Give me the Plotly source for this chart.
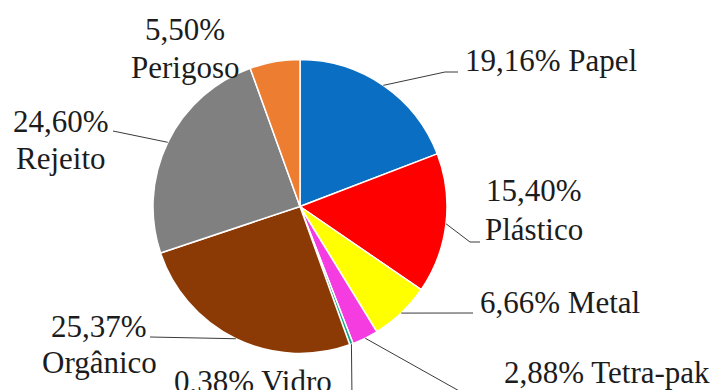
import math
import plotly.graph_objects as go

# Waste composition (%), clockwise from 12 o'clock
categories = ["Papel", "Plástico", "Metal", "Tetra-pak", "Vidro", "Orgânico", "Rejeito", "Perigoso"]
percentages = [19.16, 15.40, 6.66, 2.88, 0.38, 25.37, 24.60, 5.50]
slice_colors = ["#0A6FC2", "#FF0000", "#FFFF00", "#F43CE0", "#14A48C", "#8B3A06", "#808080", "#ED7D31"]

W, H = 715, 390
CX, CY, R = 300, 206.5, 147  # pie centre and radius in pixels
FONT = "Liberation Serif, DejaVu Serif"
FONT_SIZE = 31

# label layout in pixels: single line -> (x, y, anchor);
# two lines -> (x, y_value_line, y_name_line), centred
single_line = {
    "Papel":     (463, 60, "left"),
    "Metal":     (478, 302, "left"),
    "Tetra-pak": (502, 372, "left"),
    "Vidro":     (172, 381, "left"),
}
two_lines = {
    "Plástico":  (534, 190, 229),
    "Orgânico":  (99, 326, 362),
    "Rejeito":   (61, 121, 158),
    "Perigoso":  (185, 30, 67),
}
# leader line elbows (pixel points after the pie edge point)
leader_paths = {
    "Papel":     [(445, 72), (458, 72)],
    "Plástico":  [(470, 242), (480, 242)],
    "Metal":     [(473, 313)],
    "Tetra-pak": [(470, 397)],
    "Vidro":     [(352, 400)],
    "Orgânico":  [(150, 337)],
    "Rejeito":   [(113, 131)],
}


def px(x):
    return x / W


def py(y):
    return 1 - y / H


def fmt(v):
    return f"{v:.2f}".replace(".", ",") + "%"


def label(text, x, y, anchor):
    return dict(
        text=text, x=px(x), y=py(y), xref="paper", yref="paper",
        xanchor=anchor, yanchor="middle", showarrow=False,
        font=dict(family=FONT, size=FONT_SIZE, color="#1c1c1c"),
    )


fig = go.Figure(
    go.Pie(
        labels=categories,
        values=percentages,
        marker=dict(colors=slice_colors, line=dict(color="white", width=1.5)),
        sort=False,
        direction="clockwise",
        rotation=0,
        textinfo="none",
        hoverinfo="label+percent",
        showlegend=False,
        domain=dict(x=[px(CX - R), px(CX + R)], y=[py(CY + R), py(CY - R)]),
    )
)

total = sum(percentages)
cum = 0.0
shapes = []
annotations = []
for name, val in zip(categories, percentages):
    mid = (cum + val / 2) / total
    cum += val
    ang = 2 * math.pi * mid
    ex, ey = CX + R * math.sin(ang), CY - R * math.cos(ang)

    pts = [(ex, ey)] + leader_paths.get(name, [])
    for (x0, y0), (x1, y1) in zip(pts[:-1], pts[1:]):
        shapes.append(dict(type="line", xref="paper", yref="paper",
                           x0=px(x0), y0=py(y0), x1=px(x1), y1=py(y1),
                           line=dict(color="#3a3a3a", width=1)))

    if name in single_line:
        lx, ly, anchor = single_line[name]
        annotations.append(label(fmt(val) + " " + name, lx, ly, anchor))
    else:
        lx, y1, y2 = two_lines[name]
        annotations.append(label(fmt(val), lx, y1, "center"))
        annotations.append(label(name, lx, y2, "center"))

fig.update_layout(
    width=W, height=H,
    margin=dict(l=0, r=0, t=0, b=0),
    paper_bgcolor="white", plot_bgcolor="white",
    font=dict(family=FONT),
    shapes=shapes, annotations=annotations,
)

fig.write_html("out.html", config={"displayModeBar": False})
